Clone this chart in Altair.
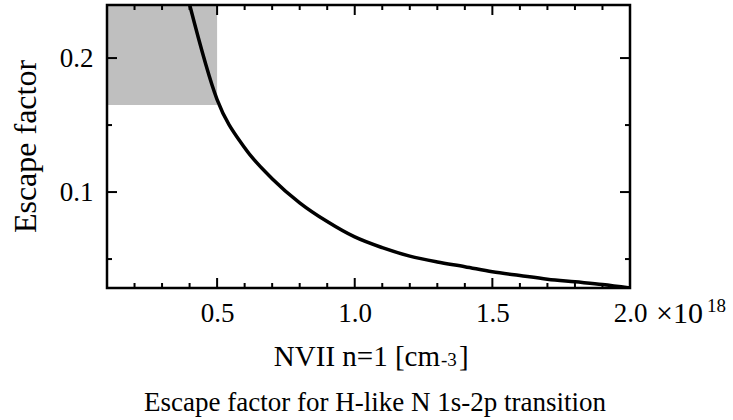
import altair as alt
import pandas as pd

# ---- data ----
density = [0.4, 0.5, 0.6, 0.7, 0.8, 0.9, 1.0, 1.1, 1.2, 1.3, 1.4, 1.5, 1.6, 1.7, 1.8, 1.9, 2.0]
escape = [0.240, 0.169, 0.133, 0.110, 0.092, 0.078, 0.0665, 0.0585, 0.0522, 0.0478, 0.0443,
          0.0405, 0.0377, 0.0350, 0.0330, 0.0310, 0.0284]

box_x = [0.1, 0.5]
box_y = [0.165, 0.2396]

x_domain = [0.1, 2.0]
y_domain = [0.0284, 0.2396]

x_label_values = [0.5, 1.0, 1.5, 2.0]
y_label_values = [0.1, 0.2]
x_major = [0.5, 1.0, 1.5]
x_minor = [0.2, 0.3, 0.4, 0.6, 0.7, 0.8, 0.9, 1.1, 1.2, 1.3, 1.4, 1.6, 1.7, 1.8, 1.9]
y_major = [0.1, 0.2]
y_minor = [0.05, 0.15]

x_title_main = "NVII n=1 [cm"
x_title_sup = "-3"
x_title_end = "]"
y_title = "Escape factor"
caption = "Escape factor for H-like N 1s-2p transition"
exp_base = "×10"
exp_power = "18"

# ---- layout ----
W, H = 523, 283
FONT = "Liberation Serif"
MAJ, MIN = 10, 5

xs = alt.Scale(domain=x_domain, nice=False, zero=False)
ys = alt.Scale(domain=y_domain, nice=False, zero=False)

x_axis = alt.Axis(values=x_label_values, format=".1f", title=None, ticks=False,
                  tickSize=0, domain=False, grid=False, labelFlush=False,
                  labelOverlap=False, labelPadding=12, labelFontSize=27,
                  labelFont=FONT, labelColor="black")
y_axis = alt.Axis(values=y_label_values, format=".1f", title=None, ticks=False,
                  tickSize=0, domain=False, grid=False, labelFlush=False,
                  labelOverlap=False, labelPadding=14, labelFontSize=27,
                  labelFont=FONT, labelColor="black")

curve_df = pd.DataFrame({"n": density, "esc": escape})
box_df = pd.DataFrame({"n": [box_x[0]], "n2": [box_x[1]], "esc": [box_y[0]], "esc2": [box_y[1]]})

box = alt.Chart(box_df).mark_rect(color="#bfbfbf").encode(
    x=alt.X("n:Q", scale=xs, axis=x_axis),
    x2="n2:Q",
    y=alt.Y("esc:Q", scale=ys, axis=y_axis),
    y2="esc2:Q",
)

line = alt.Chart(curve_df).mark_line(color="black", strokeWidth=3.5, interpolate="monotone",
                                     clip=True).encode(
    x=alt.X("n:Q", scale=xs, axis=x_axis),
    y=alt.Y("esc:Q", scale=ys, axis=y_axis),
)


def xticks(vals, length):
    df = pd.DataFrame({"n": vals})
    bottom = alt.Chart(df).mark_rule(color="black", strokeWidth=2).encode(
        x=alt.X("n:Q", scale=xs, axis=x_axis), y=alt.value(H), y2=alt.value(H - length))
    top = alt.Chart(df).mark_rule(color="black", strokeWidth=2).encode(
        x=alt.X("n:Q", scale=xs, axis=x_axis), y=alt.value(0), y2=alt.value(length))
    return [bottom, top]


def yticks(vals, length):
    df = pd.DataFrame({"esc": vals})
    left = alt.Chart(df).mark_rule(color="black", strokeWidth=2).encode(
        y=alt.Y("esc:Q", scale=ys, axis=y_axis), x=alt.value(0), x2=alt.value(length))
    right = alt.Chart(df).mark_rule(color="black", strokeWidth=2).encode(
        y=alt.Y("esc:Q", scale=ys, axis=y_axis), x=alt.value(W), x2=alt.value(W - length))
    return [left, right]


def label(text, x, y, size, align="left", angle=0):
    kw = {}
    if angle:
        kw["angle"] = angle
    return alt.Chart(pd.DataFrame({"s": [text]})).mark_text(
        font=FONT, fontSize=size, align=align, baseline="alphabetic", color="black", **kw
    ).encode(text="s:N", x=alt.value(x), y=alt.value(y))


texts = [
    label(x_title_main, 333, 361, 29, "right"),
    label(x_title_sup, 334, 361, 19, "left"),
    label(x_title_end, 352, 361, 29, "left"),
    label(caption, 268, 406, 27, "center"),
    label(exp_base, 549, 318, 30, "left"),
    label(exp_power, 600, 307, 19, "left"),
    label(y_title, -71, H / 2, 32, "center", angle=270),
]

border = alt.Chart(pd.DataFrame({"b": [0]})).mark_rect(
    fill=None, stroke="black", strokeWidth=2.5
).encode(x=alt.value(0), x2=alt.value(W), y=alt.value(0), y2=alt.value(H))

layers = [box, line] + xticks(x_major, MAJ) + xticks(x_minor, MIN) + \
    yticks(y_major, MAJ) + yticks(y_minor, MIN) + [border] + texts

chart = alt.layer(*layers).properties(
    width=W, height=H,
    autosize=alt.AutoSizeParams(type="none"),
    padding={"left": 107, "top": 5, "right": 103, "bottom": 132},
).configure_view(stroke=None)

chart.save("out.html", embed_options={"renderer": "svg", "actions": False})
